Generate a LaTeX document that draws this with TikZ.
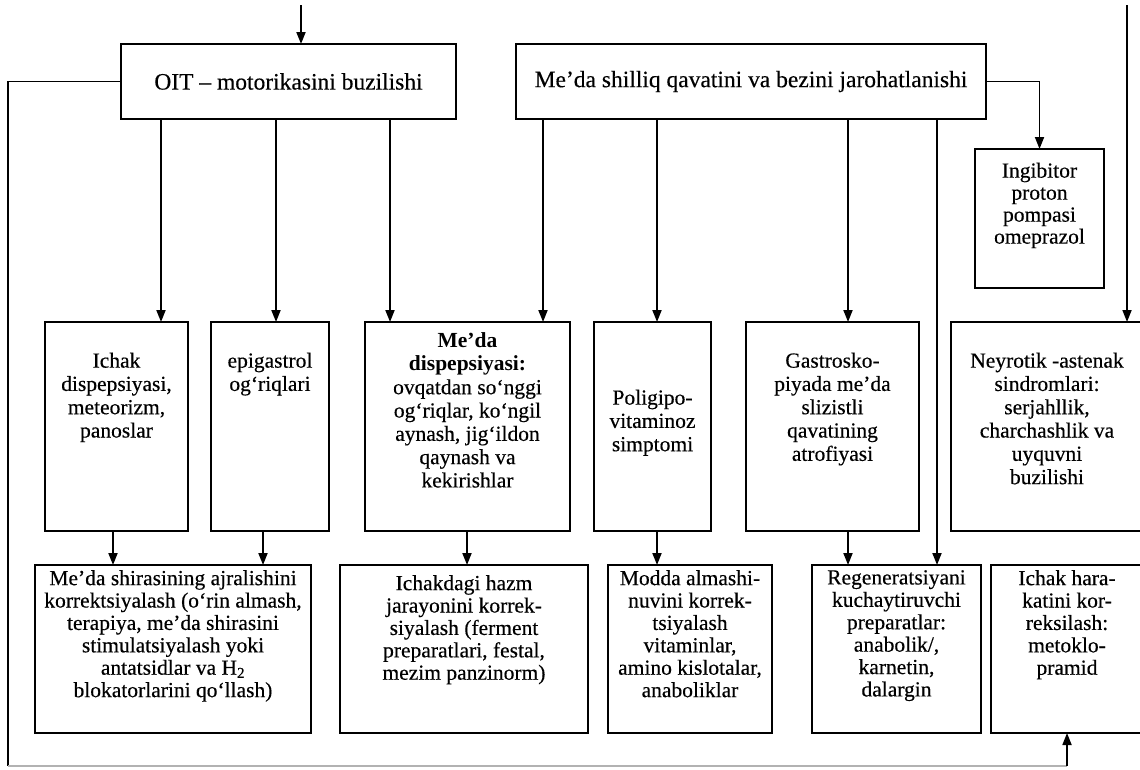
\documentclass[tikz,border=0pt]{standalone}
\usepackage{fontspec}
\setmainfont{Liberation Serif}[UprightFeatures={FakeBold=0.35}]
\usetikzlibrary{arrows.meta}

\tikzset{
  box/.style={draw, line width=1.8pt, inner sep=0pt, outer sep=0pt, rectangle},
  headtext/.style={font=\fontsize{23.5}{26}\selectfont},
  boxtext/.style={align=center, inner sep=0pt, anchor=north,
                  font=\fontsize{21.5}{23.3}\selectfont},
  lowtext/.style={boxtext, font=\fontsize{21.5}{22.4}\selectfont},
  link/.style={line width=1.8pt},
  arr/.style={link, -{Triangle[length=12pt,width=9pt]}},
  faint/.style={line width=1.4pt, black!30},
}

% \flowbox[options]{name}{x1}{y1}{x2}{y2}{text}: a framed box given by its corners
\newcommand\flowbox[7][]{%
  \node[box,#1,minimum width={#5-#3},minimum height={#6-#4}]
    (#2) at ({(#3+#5)/2},{(#4+#6)/2}) {#7};}

\begin{document}
\begin{tikzpicture}[x=1pt,y=-1pt]
\useasboundingbox (0,0) rectangle (1140,769);
\clip (0,0) rectangle (1140,769);

% ---------- top row ----------
\flowbox[headtext]{oit}{121}{44}{456}{119}{OIT -- motorikasini buzilishi}
\flowbox[headtext]{meda}{516}{44}{986}{119}{Me’da shilliq qavatini va bezini jarohatlanishi}
\flowbox{ing}{975}{149}{1104}{288}{}
\node[boxtext, font=\fontsize{21.5}{22}\selectfont] (ing-t) at ([yshift=-13.5pt]ing.north)
  {Ingibitor\\proton\\pompasi\\omeprazol};

% ---------- middle row ----------
\flowbox{ichak}{45}{322}{188}{531}{}
\flowbox{epi}{211}{322}{329}{531}{}
\flowbox{disp}{365}{322}{570}{531}{}
\flowbox{poli}{594}{322}{711}{531}{}
\flowbox{gas}{746}{322}{919}{531}{}
\flowbox{ney}{951}{322}{1143}{531}{}

\node[boxtext] (ichak-t) at ([yshift=-30.5pt]ichak.north)
  {Ichak\\dispepsiyasi,\\meteorizm,\\panoslar};
\node[boxtext] (epi-t) at ([yshift=-30.5pt]epi.north)
  {epigastrol\\og‘riqlari};
\node[boxtext] (disp-t) at ([yshift=-10.5pt]disp.north)
  {\textbf{Me’da}\\\textbf{dispepsiyasi:}\\ovqatdan so‘nggi\\og‘riqlar, ko‘ngil\\aynash, jig‘ildon\\qaynash va\\kekirishlar};
\node[boxtext] (poli-t) at ([yshift=-67.5pt]poli.north)
  {Poligipo-\\vitaminoz\\simptomi};
\node[boxtext] (gas-t) at ([yshift=-30.5pt]gas.north)
  {Gastrosko-\\piyada me’da\\slizistli\\qavatining\\atrofiyasi};
\node[boxtext] (ney-t) at ([yshift=-30.5pt]ney.north)
  {Neyrotik -astenak\\sindromlari:\\serjahllik,\\charchashlik va\\uyquvni\\buzilishi};

% ---------- bottom row ----------
\flowbox{shira}{35}{565}{311}{733}{}
\flowbox{ichd}{340}{565}{588}{733}{}
\flowbox{modda}{608}{565}{772}{733}{}
\flowbox{regen}{812}{565}{981}{733}{}
\flowbox{hara}{991}{565}{1143}{733}{}

\node[lowtext] (shira-t) at ([yshift=-5pt]shira.north)
  {Me’da shirasining ajralishini\\korrektsiyalash (o‘rin almash,\\terapiya, me’da shirasini\\stimulatsiyalash yoki\\antatsidlar va H\textsubscript{2}\\blokatorlarini qo‘llash)};
\node[lowtext] (ichd-t) at ([yshift=-10pt]ichd.north)
  {Ichakdagi hazm\\jarayonini korrek-\\siyalash (ferment\\preparatlari, festal,\\mezim panzinorm)};
\node[lowtext] (modda-t) at ([yshift=-5pt]modda.north)
  {Modda almashi-\\nuvini korrek-\\tsiyalash\\vitaminlar,\\amino kislotalar,\\anaboliklar};
\node[lowtext] (regen-t) at ([yshift=-5pt]regen.north)
  {Regeneratsiyani\\kuchaytiruvchi\\preparatlar:\\anabolik/,\\karnetin,\\dalargin};
\node[lowtext] (hara-t) at ([yshift=-5pt]hara.north)
  {Ichak hara-\\katini kor-\\reksilash:\\metoklo-\\pramid};

% ---------- connector columns ----------
\coordinate (topin) at (301,5);
\coordinate (rightin) at (1127,5);
\coordinate (c113) at (113,0);
\coordinate (c161) at (161,0);
\coordinate (c263) at (263,0);
\coordinate (c276) at (276,0);
\coordinate (c390) at (390,0);
\coordinate (c467) at (467,0);
\coordinate (c543) at (543,0);
\coordinate (c657) at (657,0);
\coordinate (c848) at (848,0);
\coordinate (c937) at (937,0);
\coordinate (fbL) at (8,766);
\coordinate (fbR) at (hara.south |- fbL);

% entries from above
\draw[arr] (topin) -- (topin |- oit.north);
\draw[arr] (rightin) -- (rightin |- ney.north);

% OIT motility branch
\draw[arr] (oit.south -| c161) -- (ichak.north -| c161);
\draw[arr] (oit.south -| c276) -- (epi.north -| c276);
\draw[arr] (oit.south -| c390) -- (disp.north -| c390);

% mucosa damage branch
\draw[arr] (meda.south -| c543) -- (disp.north -| c543);
\draw[arr] (meda.south -| c657) -- (poli.north -| c657);
\draw[arr] (meda.south -| c848) -- (gas.north -| c848);
\draw[arr] (meda.south -| c937) -- (regen.north -| c937);
\draw[arr] (meda.east) -| (ing.north);

% symptoms to treatment
\draw[arr] (ichak.south -| c113) -- (shira.north -| c113);
\draw[arr] (epi.south -| c263) -- (shira.north -| c263);
\draw[arr] (disp.south -| c467) -- (ichd.north -| c467);
\draw[arr] (poli.south -| c657) -- (modda.north -| c657);
\draw[arr] (gas.south -| c848) -- (regen.north -| c848);

% feedback loop round the left and bottom
\draw[link] (oit.west) -| (fbL);
\draw[faint] (fbL) -- (fbR);
\draw[arr] (fbR) -- (hara.south);
\end{tikzpicture}
\end{document}
